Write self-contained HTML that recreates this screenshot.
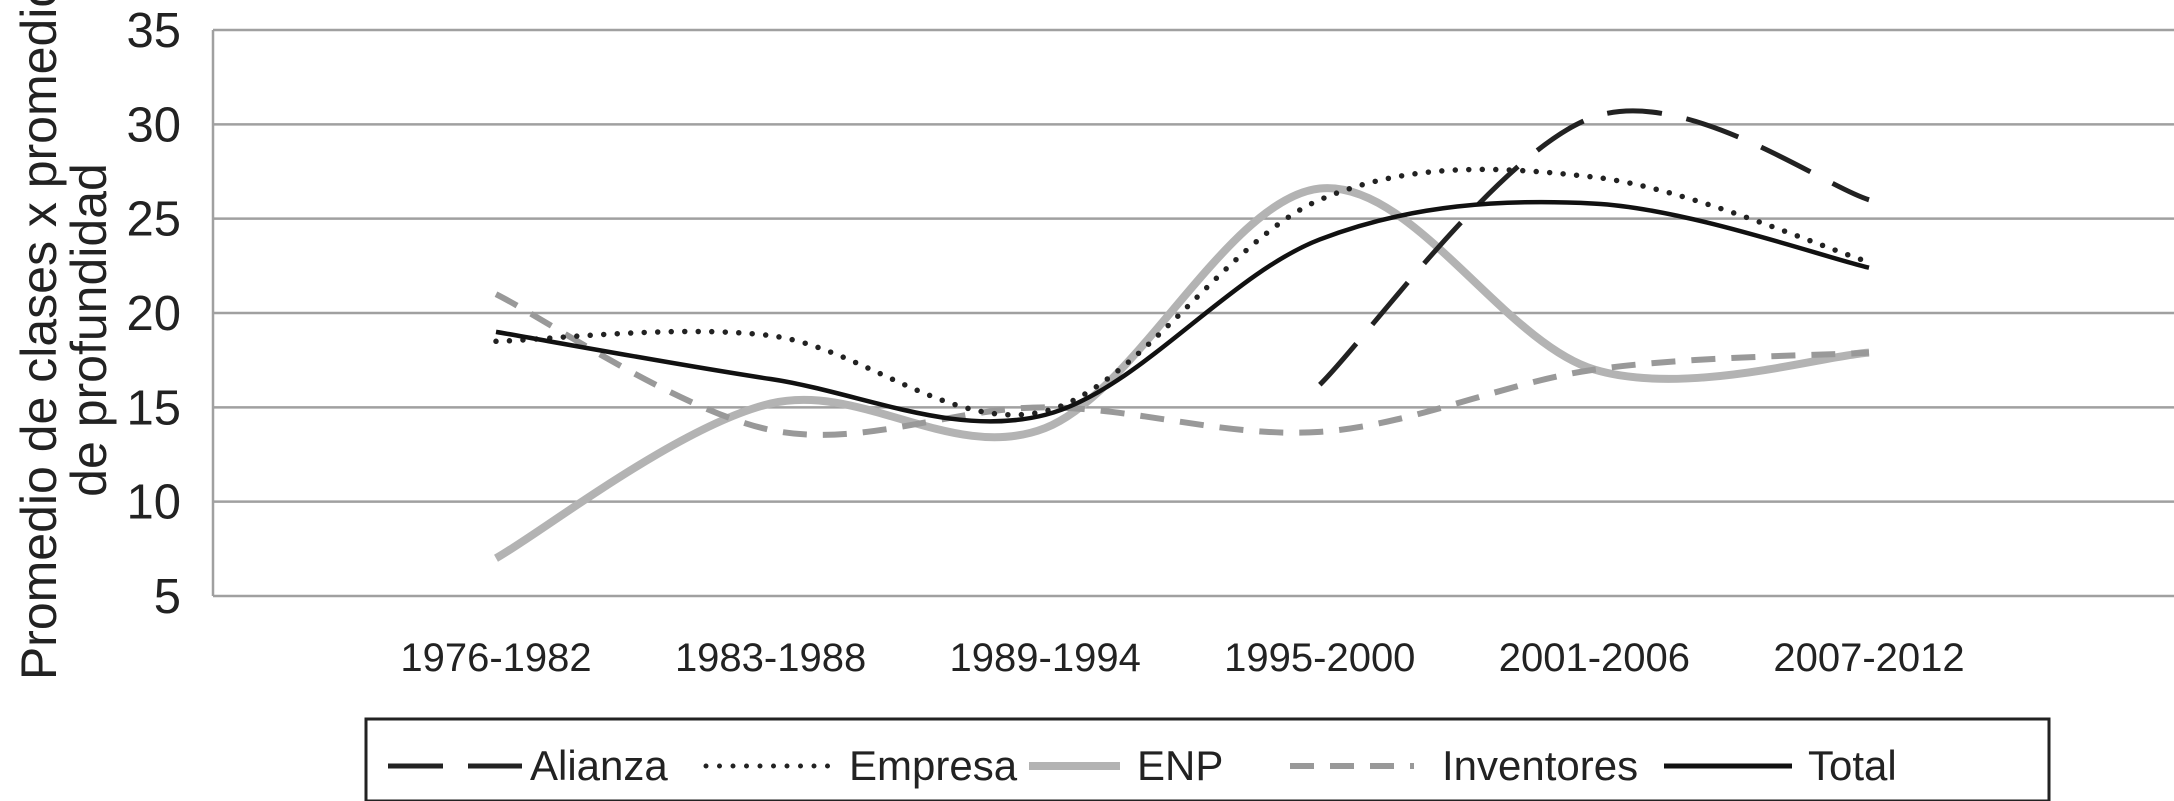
<!DOCTYPE html>
<html><head><meta charset="utf-8"><style>
body{margin:0;background:#fff}
svg{display:block;font-family:"Liberation Sans",Arial,sans-serif}
</style></head><body>
<svg id="chart" width="2174" height="801" viewBox="0 0 2174 801">
<g id="grid"></g>
<g id="ylabels"></g>
<g id="xlabels"></g>
<g id="series"></g>
<text transform="translate(0,330) rotate(-90)" font-size="50" fill="#222" text-anchor="middle"><tspan x="0" y="56">Promedio de clases x promedio</tspan><tspan x="0" y="106">de profundidad</tspan></text>
<g>
<rect x="366" y="719" width="1683" height="82" fill="none" stroke="#222" stroke-width="3"/>
<g><line x1="388" y1="766" x2="522" y2="766" stroke="#222" stroke-width="5" stroke-dasharray="55,25"/><text x="530" y="780" font-size="42" fill="#222">Alianza</text></g>
<g><line x1="706" y1="766" x2="832" y2="766" stroke="#222" stroke-width="5" stroke-dasharray="0,13.5" stroke-linecap="round"/><text x="849" y="780" font-size="42" fill="#222">Empresa</text></g>
<g><line x1="1029" y1="766" x2="1120" y2="766" stroke="#b3b3b3" stroke-width="8"/><text x="1137" y="780" font-size="42" fill="#222">ENP</text></g>
<g><line x1="1290" y1="766" x2="1414" y2="766" stroke="#999" stroke-width="6" stroke-dasharray="24,16"/><text x="1442" y="780" font-size="42" fill="#222">Inventores</text></g>
<g><line x1="1664" y1="766" x2="1792" y2="766" stroke="#111" stroke-width="5"/><text x="1808" y="780" font-size="42" fill="#222">Total</text></g>
</g>
</svg>
<script>
const categories=["1976-1982","1983-1988","1989-1994","1995-2000","2001-2006","2007-2012"];
const yTicks=[5,10,15,20,25,30,35];
const alianza=[null,null,null,16.2,30.4,26.0];
const empresa=[18.5,18.8,14.8,26.0,27.2,22.7];
const enp=[7.0,15.2,13.9,26.6,17.0,17.9];
const inventores=[21.0,13.8,15.0,13.7,17.0,17.9];
const total=[19.0,16.5,14.6,23.9,25.8,22.4];

const NS="http://www.w3.org/2000/svg";
const X0=496,DX=274.6,Y0=596,Y1=30;
const x=i=>X0+i*DX;
const y=v=>Y0-(v-5)/(35-5)*(Y0-Y1);
function mk(t,a,p){const e=document.createElementNS(NS,t);for(const k in a)e.setAttribute(k,a[k]);p.appendChild(e);return e;}
const grid=document.getElementById('grid'),yl=document.getElementById('ylabels'),xl=document.getElementById('xlabels'),sg=document.getElementById('series');
yTicks.forEach(v=>{
  const l=mk('line',{x1:213,x2:2174,y1:y(v),y2:y(v),stroke:'#a0a0a0','stroke-width':2.5},grid);
  
  
  const t=mk('text',{x:181,y:y(v)+17,'font-size':49,'text-anchor':'end',fill:'#222'},yl);
  t.textContent=v;
  
  
});
const ax=mk('line',{x1:213,x2:213,y1:Y1,y2:Y0,stroke:'#a0a0a0','stroke-width':2.5},grid);


categories.forEach((c,i)=>{
  const t=mk('text',{x:x(i),y:671,'font-size':40,'text-anchor':'middle',fill:'#222'},xl);
  t.textContent=c;
  
  
});
function path(vals){
  const pts=[];vals.forEach((v,i)=>{if(v!==null)pts.push([x(i),y(v)]);});
  let d='M'+pts[0][0]+','+pts[0][1];
  for(let i=0;i<pts.length-1;i++){
    const p0=pts[Math.max(i-1,0)],p1=pts[i],p2=pts[i+1],p3=pts[Math.min(i+2,pts.length-1)];
    const t=1/6;
    d+=' C'+(p1[0]+(p2[0]-p0[0])*t)+','+(p1[1]+(p2[1]-p0[1])*t)+' '+(p2[0]-(p3[0]-p1[0])*t)+','+(p2[1]-(p3[1]-p1[1])*t)+' '+p2[0]+','+p2[1];
  }
  return d;
}
const defs=[
 [enp,'series-enp',{stroke:'#b3b3b3','stroke-width':8}],
 [inventores,'series-inventores',{stroke:'#999','stroke-width':6,'stroke-dasharray':'24,16'}],
 [alianza,'series-alianza',{stroke:'#222','stroke-width':5,'stroke-dasharray':'55,25'}],
 [empresa,'series-empresa',{stroke:'#222','stroke-width':5.5,'stroke-dasharray':'0,13.5','stroke-linecap':'round'}],
 [total,'series-total',{stroke:'#111','stroke-width':4.5}]
];
defs.forEach(([vals,name,st])=>{
  const p=mk('path',Object.assign({d:path(vals),fill:'none'},st),sg);
  
  
});
</script>
</body></html>
